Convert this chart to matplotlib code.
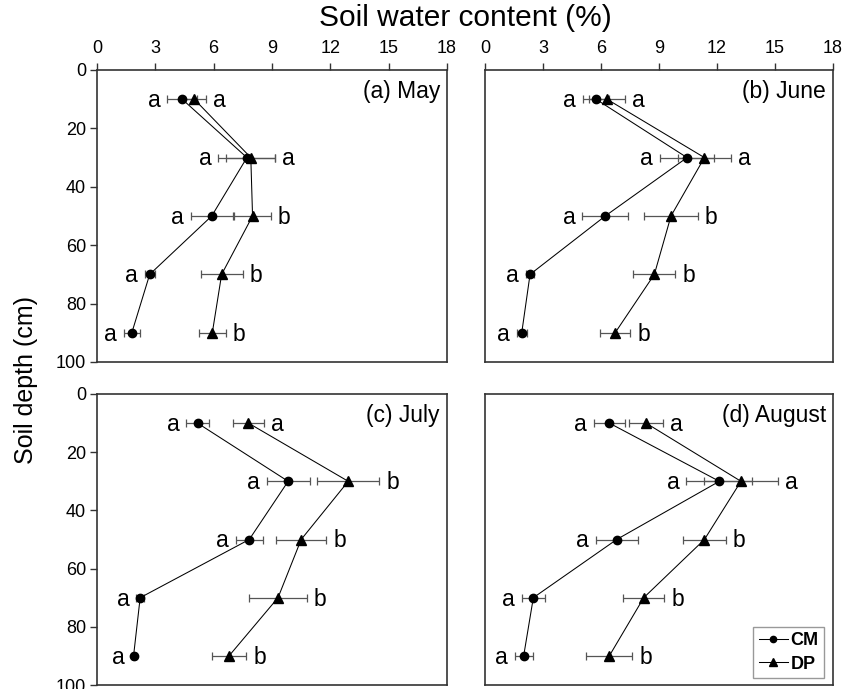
import matplotlib
matplotlib.use("Agg")
import matplotlib.pyplot as plt

plt.rcParams['font.family'] = ['Liberation Sans', 'DejaVu Sans']

depth = [10, 30, 50, 70, 90]

# (a) May
may_cm = [4.38, 7.71, 5.90, 2.71, 1.79]
may_cm_err = [0.76, 1.47, 1.08, 0.26, 0.40]
may_dp = [5.00, 7.91, 8.00, 6.41, 5.93]
may_dp_err = [0.60, 1.26, 0.93, 1.08, 0.69]
may_cm_let = ["a", "a", "a", "a", "a"]
may_dp_let = ["a", "a", "b", "b", "b"]

# (b) June
jun_cm = [5.74, 10.45, 6.22, 2.33, 1.90]
jun_cm_err = [0.69, 1.40, 1.19, 0.23, 0.26]
jun_dp = [6.31, 11.35, 9.62, 8.76, 6.73]
jun_dp_err = [0.95, 1.38, 1.38, 1.09, 0.78]
jun_cm_let = ["a", "a", "a", "a", "a"]
jun_dp_let = ["a", "a", "b", "b", "b"]

# (c) July
jul_cm = [5.17, 9.83, 7.83, 2.22, 1.88]
jul_cm_err = [0.58, 1.11, 0.69, 0.20, 0.10]
jul_dp = [7.79, 12.92, 10.50, 9.31, 6.79]
jul_dp_err = [0.79, 1.60, 1.30, 1.49, 0.89]
jul_cm_let = ["a", "a", "a", "a", "a"]
jul_dp_let = ["a", "b", "b", "b", "b"]

# (d) August
aug_cm = [6.43, 12.12, 6.81, 2.50, 2.00]
aug_cm_err = [0.79, 1.70, 1.08, 0.59, 0.47]
aug_dp = [8.33, 13.24, 11.35, 8.21, 6.43]
aug_dp_err = [0.88, 1.90, 1.12, 1.06, 1.19]
aug_cm_let = ["a", "a", "a", "a", "a"]
aug_dp_let = ["a", "a", "b", "b", "b"]

panels = [
    ("(a) May", may_cm, may_cm_err, may_dp, may_dp_err, may_cm_let, may_dp_let),
    ("(b) June", jun_cm, jun_cm_err, jun_dp, jun_dp_err, jun_cm_let, jun_dp_let),
    ("(c) July", jul_cm, jul_cm_err, jul_dp, jul_dp_err, jul_cm_let, jul_dp_let),
    ("(d) August", aug_cm, aug_cm_err, aug_dp, aug_dp_err, aug_cm_let, aug_dp_let),
]

x_ticks = [0, 3, 6, 9, 12, 15, 18]
y_ticks = [0, 20, 40, 60, 80, 100]

fig = plt.figure(figsize=(8.43, 6.89), dpi=100)
W, H = 843.0, 689.0
boxes = [(97, 70, 350, 292), (485, 70, 348, 292),
         (97, 394, 350, 291), (485, 394, 348, 291)]

spine_col = "#333333"
err_col = "#555555"

for i, (title, cm, cm_err, dp, dp_err, cm_let, dp_let) in enumerate(panels):
    l, t, w, h = boxes[i]
    ax = fig.add_axes([l / W, 1 - (t + h) / H, w / W, h / H])

    ax.errorbar(cm, depth, xerr=cm_err, fmt="none", ecolor=err_col,
                elinewidth=0.9, capsize=3, capthick=0.9, zorder=2)
    ax.errorbar(dp, depth, xerr=dp_err, fmt="none", ecolor=err_col,
                elinewidth=0.9, capsize=3, capthick=0.9, zorder=2)
    ax.plot(cm, depth, color="black", lw=0.75, marker="o", ms=6,
            label="CM", zorder=3)
    ax.plot(dp, depth, color="black", lw=0.75, marker="^", ms=7,
            label="DP", zorder=3)

    for j in range(len(depth)):
        ax.annotate(cm_let[j], (cm[j] - cm_err[j], depth[j]), xytext=(-5, -1),
                    textcoords="offset points", ha="right", va="center",
                    fontsize=16.5)
        ax.annotate(dp_let[j], (dp[j] + dp_err[j], depth[j]), xytext=(5, -1),
                    textcoords="offset points", ha="left", va="center",
                    fontsize=16.5)

    ax.text(0.98, 0.965, title, transform=ax.transAxes, ha="right",
            va="top", fontsize=16.5)

    ax.set_xlim(0, 18)
    ax.set_ylim(100, 0)
    for s in ax.spines.values():
        s.set_color(spine_col)
        s.set_linewidth(1.2)

    if i < 2:
        ax.xaxis.tick_top()
        ax.set_xticks(x_ticks)
        ax.tick_params(axis="x", direction="out", length=5, width=1,
                       color=spine_col, labelsize=13, pad=4.5)
    else:
        ax.set_xticks([])
    if i % 2 == 0:
        ax.set_yticks(y_ticks)
        ax.tick_params(axis="y", direction="out", length=5, width=1,
                       color=spine_col, labelsize=13, pad=3)
    else:
        ax.set_yticks([])

    if i == 3:
        leg = ax.legend(loc="lower right", bbox_to_anchor=(0.974, 0.024),
                        prop={"weight": "bold", "size": 13},
                        markerscale=0.75, handlelength=1.6,
                        handletextpad=0.15, borderpad=0.3,
                        labelspacing=0.35, borderaxespad=0,
                        fancybox=False, edgecolor="#999999", framealpha=1)

fig.text(465 / W, 1 - 18 / H, "Soil water content (%)", ha="center",
         va="center", fontsize=21.5)
fig.text(26 / W, 1 - 380 / H, "Soil depth (cm)", ha="center", va="center",
         rotation=90, fontsize=18)

fig.savefig("out.png", dpi=100)
